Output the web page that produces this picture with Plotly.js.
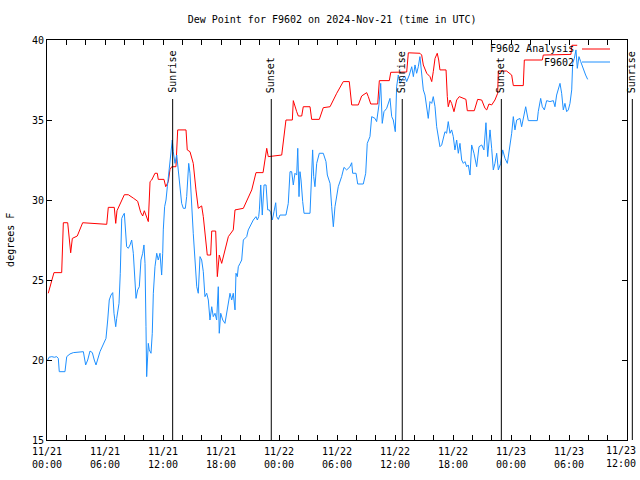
<!DOCTYPE html>
<html>
<head>
<meta charset="utf-8">
<script src="https://cdn.plot.ly/plotly-3.0.1.min.js"></script>
<style>html,body{margin:0;padding:0;background:#fff;}#chart{width:640px;height:480px;}</style>
</head>
<body>
<div id="chart"></div>
<script>
// Hours since 2024-11-21 00:00 UTC
const analysisHours = [0.13,0.72,1.52,1.69,2.14,2.28,2.45,2.62,3.13,3.69,4.97,6.18,6.34,6.96,7.11,7.24,8.0,8.41,8.97,9.38,9.69,9.9,10.07,10.48,10.66,10.83,11.17,11.41,11.51,12.1,12.28,12.55,12.72,12.9,13.34,13.52,14.38,14.51,14.79,15.13,15.41,15.65,16.0,16.17,16.58,16.93,17.04,17.45,17.62,17.82,18.07,18.76,19.27,19.45,20.31,20.82,21.18,21.62,22.35,22.73,22.89,24.28,24.44,24.62,24.72,25.38,25.48,25.83,26.0,26.35,26.51,27.21,27.38,28.17,28.58,29.28,29.62,29.97,30.65,31.27,31.52,32.2,32.55,33.07,33.24,33.49,34.21,34.38,35.41,35.56,37.21,37.38,38.58,38.76,38.93,39.28,39.62,39.8,39.96,40.14,40.37,40.52,40.65,41.28,41.41,41.51,41.69,41.86,42.1,42.38,42.65,43.34,43.48,44.2,44.55,44.97,45.31,45.49,45.72,46.0,46.34,46.62,46.69,47.55,48.07,48.24,49.27,49.38,51.24,51.34,54.2,54.3,54.85];
const analysisValues = [24.17,25.46,25.46,28.58,28.58,27.6,26.7,27.6,27.75,28.58,28.54,28.48,29.54,29.54,28.54,29.33,30.33,30.33,30.1,29.92,29.23,29.0,29.33,28.65,31.15,31.25,31.67,31.67,31.29,31.29,30.83,31.15,31.9,32.08,32.08,34.38,34.38,33.13,33.02,32.29,30.63,29.48,29.63,28.96,26.56,26.56,28.06,28.06,25.21,26.56,26.04,27.71,28.13,29.38,29.48,30.1,30.63,31.71,31.71,33.23,32.71,32.81,33.75,34.69,35.0,35.0,36.21,35.52,35.25,35.25,35.83,35.83,35.04,35.04,35.77,35.83,36.25,36.67,37.4,37.4,35.94,35.94,36.5,36.71,36.46,36.0,36.0,37.46,37.46,37.98,38.0,39.2,39.17,39.06,38.44,37.92,37.71,37.4,38.02,38.85,39.17,38.75,38.13,38.13,36.46,35.83,36.25,36.04,35.52,36.25,36.46,36.29,35.58,35.58,36.29,36.25,35.73,35.63,36.0,35.94,36.25,36.67,38.06,38.06,37.81,37.15,37.15,38.75,38.75,39.06,39.1,39.67,39.67];

const obsHours = [0.07,0.21,0.49,0.76,1.0,1.17,1.27,1.86,2.04,2.38,2.72,3.52,3.76,4.0,4.21,4.45,4.69,4.89,5.07,5.48,5.82,6.1,6.28,6.44,6.62,6.8,6.93,7.11,7.21,7.45,7.58,7.73,7.89,8.0,8.24,8.41,8.59,8.76,8.93,9.1,9.21,9.38,9.55,9.72,9.9,10.03,10.14,10.24,10.31,10.48,10.58,10.76,10.89,11.0,11.17,11.35,11.51,11.69,11.86,11.97,12.03,12.17,12.31,12.45,12.62,12.8,12.96,13.06,13.24,13.42,13.58,13.76,13.93,14.1,14.31,14.45,14.55,14.66,14.79,14.97,15.13,15.31,15.49,15.65,15.83,16.0,16.17,16.34,16.52,16.69,16.86,17.04,17.2,17.38,17.55,17.72,17.82,17.97,18.18,18.41,18.59,18.76,18.93,19.11,19.27,19.45,19.55,19.69,19.79,19.97,20.14,20.31,20.66,20.82,21.0,21.34,21.62,21.76,21.9,21.97,22.11,22.27,22.45,22.66,22.83,23.0,23.14,23.31,23.48,23.66,23.76,23.93,24.1,24.72,24.96,25.14,25.31,25.48,25.65,25.83,25.94,26.07,26.17,26.28,26.45,26.59,27.21,27.38,27.48,27.59,27.72,27.9,28.17,28.58,28.86,29.0,29.28,29.45,29.62,29.79,29.97,30.13,30.48,30.72,31.0,31.34,31.52,31.62,31.97,32.14,32.72,32.97,33.13,33.41,33.59,33.93,34.1,34.34,34.52,34.68,34.86,35.14,35.48,35.66,35.82,36.03,36.17,36.34,36.52,36.79,37.03,37.21,37.48,37.73,37.9,38.07,38.24,38.41,38.58,38.76,38.93,39.1,39.28,39.44,39.62,39.8,39.96,40.14,40.31,40.48,40.65,40.83,41.0,41.17,41.34,41.51,41.69,41.86,42.03,42.2,42.38,42.55,42.72,42.9,43.07,43.24,43.41,43.58,43.76,43.93,44.17,44.45,44.69,44.97,45.2,45.41,45.59,45.83,46.0,46.17,46.34,46.52,46.69,46.93,47.14,47.38,47.62,47.9,48.07,48.24,48.41,48.59,48.93,49.1,49.27,49.52,49.79,50.72,50.82,51.07,51.24,51.45,51.69,52.03,52.38,52.55,52.72,52.89,53.07,53.24,53.41,53.58,53.76,53.93,54.1,54.28,54.38,54.55,54.72,54.86,55.03,55.21,55.48,55.72,55.93];
const obsValues = [20.0,20.17,20.21,20.17,20.21,20.1,19.27,19.27,20.21,20.38,20.46,20.52,20.52,19.69,20.0,20.56,20.46,20.0,19.69,20.52,21.04,21.35,22.5,23.75,24.06,24.21,22.92,22.08,22.6,23.54,25.42,28.85,29.06,29.17,27.08,26.98,27.19,27.5,26.67,24.79,23.85,24.38,24.58,26.25,26.67,27.19,26.04,22.08,18.96,21.04,20.63,20.42,21.67,24.17,25.83,26.67,26.25,26.67,25.31,26.67,28.13,29.58,30.0,30.83,31.77,32.5,33.75,33.02,32.29,32.81,31.88,30.83,29.79,29.48,29.48,30.21,31.25,32.29,31.67,29.17,27.92,26.25,24.58,24.17,26.46,26.25,25.52,23.96,24.17,23.75,22.5,23.33,22.71,22.92,22.5,24.58,21.67,22.92,22.5,22.29,22.92,23.75,24.17,23.75,24.17,23.13,25.42,25.21,25.83,26.04,26.25,27.5,27.71,28.13,28.33,28.75,28.96,28.75,28.96,29.38,30.94,29.06,30.94,30.94,29.38,29.38,29.21,28.75,29.27,29.83,28.96,28.79,29.06,29.06,29.79,31.77,31.77,30.94,31.67,31.56,33.23,30.21,31.77,31.25,29.9,29.17,29.17,31.46,33.13,31.46,30.83,32.29,32.92,32.92,32.4,31.56,31.04,29.58,28.33,29.58,30.21,30.83,31.46,32.04,31.88,32.08,32.33,31.67,31.67,31.0,31.0,31.67,33.54,33.96,35.21,35.1,34.9,35.94,37.29,34.79,35.52,35.73,36.35,35.21,35.0,34.27,37.08,37.81,37.29,37.6,37.71,37.4,37.81,38.33,37.71,38.44,37.92,38.33,38.96,38.02,36.88,36.56,35.83,35.1,36.15,36.04,36.46,35.83,34.58,33.96,33.33,33.44,33.96,34.27,34.17,34.9,34.17,34.38,33.96,33.13,33.75,32.92,33.54,32.5,32.29,32.4,32.08,32.19,31.56,33.44,32.92,32.08,33.33,33.44,33.13,34.83,32.71,34.38,33.23,31.88,32.29,32.92,31.88,32.29,33.13,32.6,32.29,33.33,34.17,35.21,34.38,35.0,35.1,34.58,35.1,35.83,34.96,34.96,35.52,36.35,35.83,35.63,36.21,36.15,36.21,35.83,36.56,36.88,37.29,36.67,35.63,36.04,35.52,35.63,36.04,36.88,38.54,38.85,39.38,38.23,38.96,38.65,38.13,37.81,37.54];

const sunHours = [13.0, 23.2, 36.75, 47.0, 60.55];
const sunLabels = ["Sunrise", "Sunset", "Sunrise", "Sunset", "Sunrise"];

const tickHours = [0, 6, 12, 18, 24, 30, 36, 42, 48, 54, 60];
const tickLabels = ["11/21<br>00:00","11/21<br>06:00","11/21<br>12:00","11/21<br>18:00","11/22<br>00:00","11/22<br>06:00","11/22<br>12:00","11/22<br>18:00","11/23<br>00:00","11/23<br>06:00","11/23<br>12:00"];

const seriesNames = ["F9602 Analysis", "F9602"];
const seriesColors = ["#ff0000", "#1e90ff"];

const BASE = Date.UTC(2024, 10, 21, 0, 0, 0);
function t(h) {
  return new Date(BASE + Math.round(h * 3600000)).toISOString().replace('T', ' ').slice(0, 19);
}

const FONT = "DejaVu Sans Mono, monospace";
const xStart = t(0), xEnd = t(60);

const traces = [
  {x: analysisHours.map(t), y: analysisValues, type: 'scatter', mode: 'lines',
   name: seriesNames[0], line: {color: seriesColors[0], width: 1}},
  {x: obsHours.map(t), y: obsValues, type: 'scatter', mode: 'lines',
   name: seriesNames[1], line: {color: seriesColors[1], width: 1}}
];

const shapes = [];
const annotations = [];
sunHours.forEach((h, i) => {
  const inRange = h <= 60;
  const xr = inRange ? 'x' : 'paper';
  const xv = inRange ? t(h) : h / 60;
  shapes.push({type: 'line', xref: xr, yref: 'paper', x0: xv, x1: xv, y0: 0, y1: 0.8525,
    line: {color: '#000', width: 1}});
  annotations.push({xref: xr, yref: 'paper', x: xv, y: 0.8625, text: sunLabels[i],
    textangle: -90, showarrow: false, xanchor: 'center', yanchor: 'bottom',
    font: {family: FONT, size: 10, color: '#000'}});
});

// Legend (gnuplot style: text then line sample)
[0.9775, 0.945].forEach((yy, i) => {
  annotations.push({xref: 'paper', yref: 'paper', x: 0.9125, y: yy, text: seriesNames[i],
    showarrow: false, xanchor: 'right', yanchor: 'middle', font: {family: FONT, size: 10, color: '#000'}});
  shapes.push({type: 'line', xref: 'paper', yref: 'paper', x0: 0.9224, x1: 0.9707, y0: yy, y1: yy,
    line: {color: seriesColors[i], width: 1}});
});

annotations.push({xref: 'paper', yref: 'paper', x: -0.064, y: 0.5, text: 'degrees F',
  textangle: -90, showarrow: false, xanchor: 'center', yanchor: 'middle',
  font: {family: FONT, size: 10, color: '#000'}});

// Last tick label, kept inside the page as in the reference
const lastIdx = tickLabels.length - 1;
annotations.push({xref: 'paper', yref: 'paper', x: 1.019, y: -0.008, text: tickLabels[lastIdx],
  showarrow: false, xanchor: 'right', yanchor: 'top', align: 'center',
  font: {family: FONT, size: 10, color: '#000'}});
const axisTickText = tickLabels.map((s, i) => i === lastIdx ? '' : s);

const layout = {
  width: 640, height: 480,
  margin: {l: 47, r: 13, t: 40, b: 40, pad: 0},
  paper_bgcolor: '#fff', plot_bgcolor: '#fff',
  showlegend: false,
  font: {family: FONT, size: 10, color: '#000'},
  title: {text: 'Dew Point for F9602 on 2024-Nov-21 (time in UTC)', xref: 'container', x: 0.519,
    xanchor: 'center', yref: 'container', y: 0.96, yanchor: 'middle',
    font: {family: FONT, size: 10, color: '#000'}},
  xaxis: {type: 'date', range: [xStart, xEnd], showgrid: false, zeroline: false,
    showline: true, mirror: 'ticks', linecolor: '#000', linewidth: 1,
    tickmode: 'array', tickvals: tickHours.map(t), ticktext: axisTickText,
    ticks: 'inside', ticklen: 5, tickcolor: '#000', tickfont: {family: FONT, size: 10},
    ticklabelstandoff: 2,
    minor: {dtick: 2 * 3600000, tick0: xStart, ticks: 'inside', ticklen: 5, tickcolor: '#000', showgrid: false}},
  yaxis: {range: [15, 40], dtick: 5, tick0: 15, showgrid: false, zeroline: false,
    showline: true, mirror: 'ticks', linecolor: '#000', linewidth: 1,
    ticks: 'inside', ticklen: 5, tickcolor: '#000', tickfont: {family: FONT, size: 10}},
  shapes: shapes,
  annotations: annotations
};

Plotly.newPlot('chart', traces, layout, {displayModeBar: false, staticPlot: true});
</script>
</body>
</html>
